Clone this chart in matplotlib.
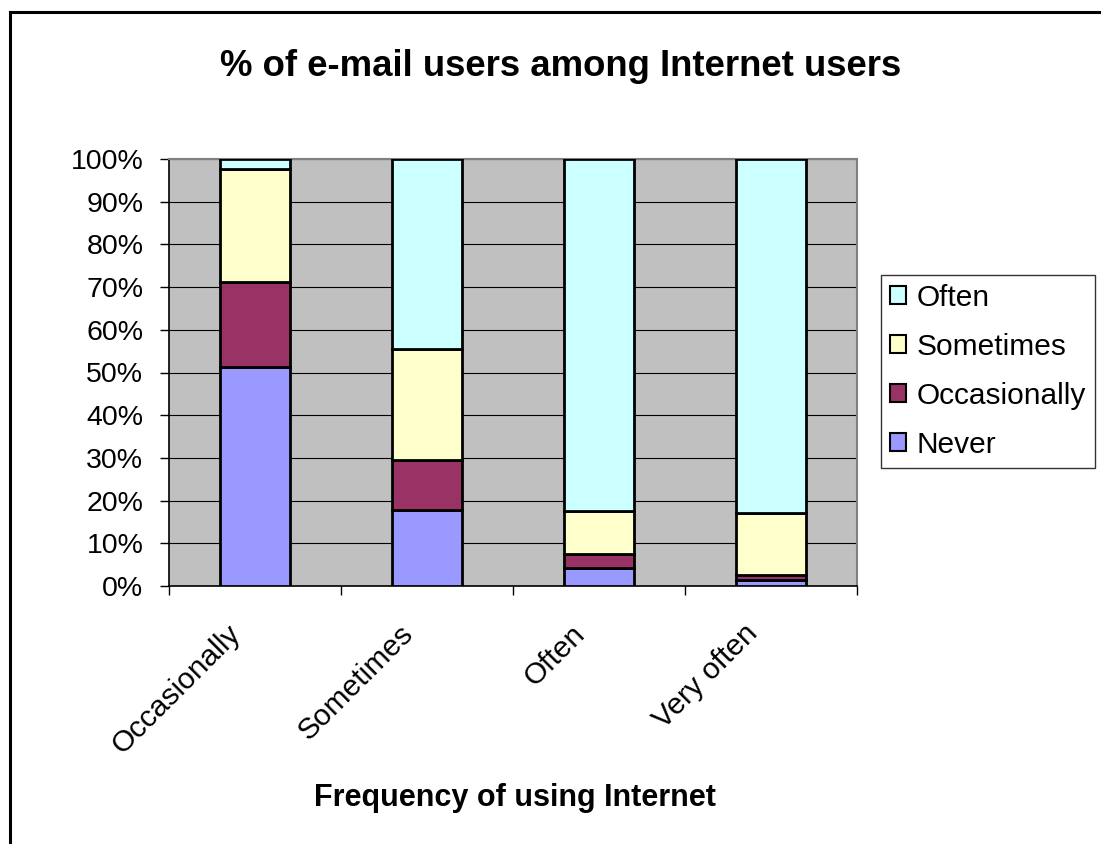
import matplotlib
matplotlib.use("Agg")
import matplotlib.pyplot as plt
from matplotlib.lines import Line2D
from matplotlib.patches import Patch
from matplotlib.transforms import ScaledTranslation
import numpy as np

plt.rcParams['font.family'] = ['Liberation Sans', 'DejaVu Sans']

categories = ["Occasionally", "Sometimes", "Often", "Very often"]
never = [51.3, 17.7, 4.1, 1.3]
occasionally = [19.8, 11.8, 3.3, 1.2]
sometimes = [26.6, 26.1, 10.2, 14.7]
often = [2.3, 44.4, 82.4, 82.8]

series = [("Never", never, "#9999FF"),
          ("Occasionally", occasionally, "#993366"),
          ("Sometimes", sometimes, "#FFFFCC"),
          ("Often", often, "#CCFFFF")]

W, H = 1101, 844
fig = plt.figure(figsize=(W / 100, H / 100), dpi=100)

# axes placed in pixel coords of the reference
x0, x1, y0, y1 = 169, 857, 159, 586
ax = fig.add_axes([x0 / W, 1 - y1 / H, (x1 - x0) / W, (y1 - y0) / H])
ax.set_facecolor("#C0C0C0")

x = np.arange(len(categories))
bottom = np.zeros(len(categories))
for name, vals, col in series:
    ax.bar(x, vals, width=0.41, bottom=bottom, color=col,
           edgecolor="black", linewidth=2.0, label=name, zorder=3)
    bottom += np.array(vals)

ax.set_xlim(-0.5, len(categories) - 0.5)
ax.set_ylim(0, 100)
ax.set_yticks(np.arange(0, 101, 10))
ax.set_yticklabels([f"{v}%" for v in range(0, 101, 10)], fontsize=20.5)
ax.yaxis.grid(True, color="black", linewidth=0.8, zorder=1)
ax.set_axisbelow(True)

# category boundaries get tick marks, labels sit at centres
ax.set_xticks(np.arange(-0.5, len(categories), 1.0))
ax.set_xticklabels([])
ax.set_xticks(x, minor=True)
ax.set_xticklabels(categories, minor=True, rotation=45, ha="right",
                   rotation_mode="anchor", fontsize=21.5)
ax.tick_params(axis="x", which="minor", length=0, pad=24)
ax.tick_params(axis="both", which="major", length=6.5, width=1, direction="out")
ax.tick_params(axis="y", pad=12)
shift = ScaledTranslation(-28 / 100, 0, fig.dpi_scale_trans)
for lab in ax.get_xticklabels(minor=True):
    lab.set_transform(lab.get_transform() + shift)

for s in ["top", "right"]:
    ax.spines[s].set_color("#808080")
    ax.spines[s].set_linewidth(1.5)
for s in ["left", "bottom"]:
    ax.spines[s].set_color("black")
    ax.spines[s].set_linewidth(1.2)

ax.set_xlabel("Frequency of using Internet", fontsize=22, fontweight="bold",
              labelpad=0)
ax.xaxis.set_label_coords((515 - x0) / (x1 - x0), -(783 - y1) / (y1 - y0))

fig.text(561 / W, 1 - 66 / H, "% of e-mail users among Internet users",
         ha="center", va="center", fontsize=26.3, fontweight="bold")

handles = [Patch(facecolor=c, edgecolor="black", linewidth=1.5, label=n)
           for n, v, c in reversed(series)]
leg = fig.legend(handles=handles, loc="upper left",
                 bbox_to_anchor=(881 / W, 1 - 275 / H), fontsize=21.5,
                 frameon=True, fancybox=False, edgecolor="black",
                 handlelength=0.55, handleheight=0.55, handletextpad=0.35,
                 labelspacing=0.7, borderpad=0.3, borderaxespad=0)
leg.get_frame().set_linewidth(1.0)

# outer chart frame (runs off right and bottom edges)
fig.add_artist(Line2D([9.5 / W, 1.0], [1 - 11.5 / H, 1 - 11.5 / H],
                      color="black", linewidth=2.2, transform=fig.transFigure))
fig.add_artist(Line2D([9.5 / W, 9.5 / W], [0.0, 1 - 11.5 / H],
                      color="black", linewidth=2.2, transform=fig.transFigure))

fig.savefig("out.png", dpi=100, facecolor="white")
